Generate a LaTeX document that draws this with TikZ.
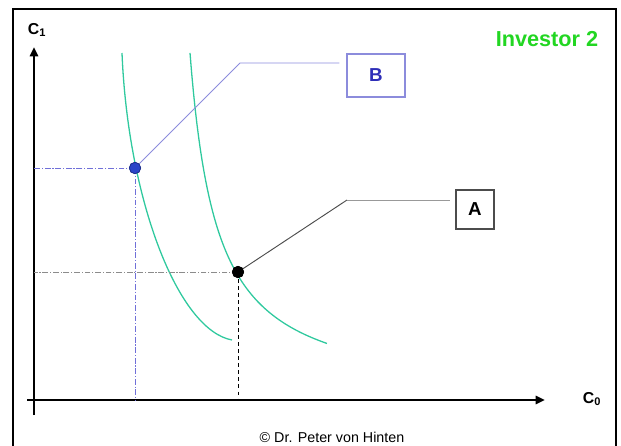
\documentclass[tikz,border=0pt]{standalone}
\usepackage{fontspec}
\setmainfont{Liberation Sans}
\usetikzlibrary{arrows.meta,positioning,calc}
\definecolor{invgreen}{HTML}{22D622}
\definecolor{curveteal}{HTML}{2FC99E}
\definecolor{ptblue}{HTML}{2A45C8}
\definecolor{boxblue}{HTML}{8C8CDC}
\definecolor{lblblue}{HTML}{2E2EB8}
\definecolor{dashblue}{HTML}{7070D8}

\begin{document}
\begin{tikzpicture}[x=0.03cm, y=-0.03cm,
  axisline/.style={line width=2.5pt, -{Triangle[length=8pt,width=7pt]}},
  labelbox/.style={draw, fill=white, line width=0.9pt, font=\fontsize{16}{18}\selectfont\bfseries},
  indiff/.style={curveteal, line width=1.1pt},
  dot/.style={circle, inner sep=0pt, minimum size=0.34cm, line width=0.6pt},
  guide/.style={line width=0.7pt, dash pattern=on 5pt off 1.5pt on 1pt off 1.5pt}]
  \useasboundingbox (0,0) rectangle (621,445);
  \clip (0,0) rectangle (621,445);
  \draw[line width=1.2pt] (13,470) -- (13,9) -- (616,9) -- (616,470);

  % axes
  \coordinate (O) at (34,400);
  \draw[axisline] (34,415) -- (34,47);
  \draw[axisline] (27,400) -- (545,400);
  \node[font=\fontsize{13.5}{15}\selectfont\bfseries] (c1) at (37,30) {C\textsubscript{1}};
  \node[font=\fontsize{13.5}{15}\selectfont\bfseries] (c0) at (592,399) {C\textsubscript{0}};
  \node[font=\fontsize{18.5}{20}\selectfont\bfseries, color=invgreen] (inv) at (547,39) {Investor 2};

  % indifference curves
  \draw[indiff] (122,53) .. controls (128,200) and (178,330) .. (232,340);
  \draw[indiff] plot[domain=190:327, samples=80] (\x, {400.7 - 9389/(\x-163)});

  \node[dot, fill=ptblue, draw=ptblue!70!black] (ptB) at (135,168) {};
  \node[dot, fill=black, draw=black] (ptA) at (238,272) {};

  % guide lines to the axes
  \draw[guide, dashblue] (ptB.center) -- (ptB.center -| O);
  \draw[guide, dashblue] (ptB.center) -- (ptB.center |- O);
  \draw[guide, black!45] (ptA.center) -- (ptA.center -| O);
  \draw[line width=0.7pt, dashed, black] (ptA.center) -- (ptA.center |- O);

  % labels
  \node[labelbox, draw=boxblue, text=lblblue, minimum width=1.74cm, minimum height=1.29cm] (boxB) at (376,75.5) {B};
  \node[labelbox, draw=black!70, minimum width=1.14cm, minimum height=1.17cm] (boxA) at (475,209.5) {A};
  \coordinate (kneeB) at (240,63);
  \coordinate (kneeA) at (347,200);
  \draw[boxblue, line width=0.8pt, shorten >=6pt] (ptB) -- (kneeB) -- (kneeB -| boxB.west);
  \draw[black!70, line width=0.8pt] (ptA) -- (kneeA);
  \draw[black!40, line width=0.8pt, shorten >=5pt] (kneeA) -- (kneeA -| boxA.west);
  \node[font=\fontsize{12.2}{14}\selectfont, anchor=base] (copy) at (332,442) {© Dr. Peter von Hinten};
  \node[dot, fill=ptblue, draw=ptblue!70!black] at (ptB) {};
  \node[dot, fill=black, draw=black] at (ptA) {};
\end{tikzpicture}
\end{document}
